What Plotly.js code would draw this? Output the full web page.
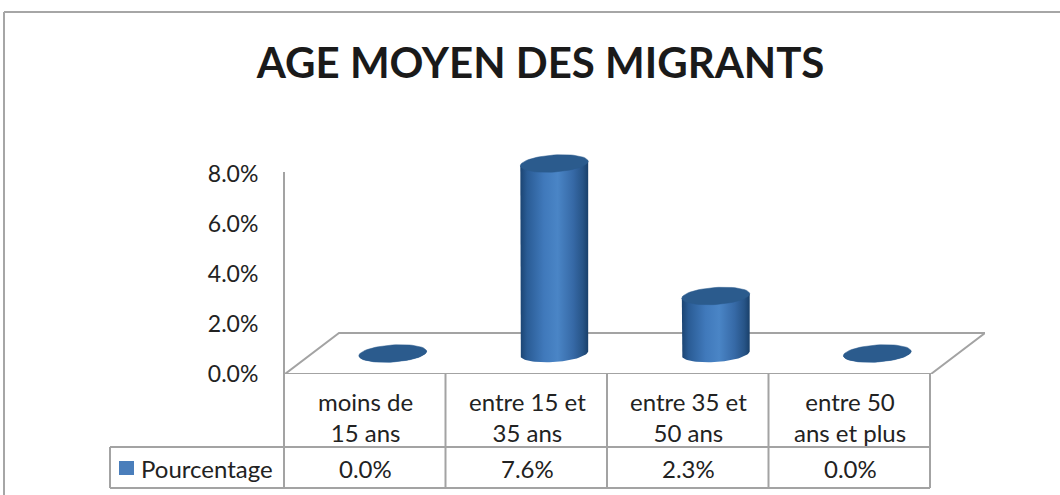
<!DOCTYPE html>
<html>
<head>
<meta charset="utf-8">
<script src="https://cdn.plot.ly/plotly-3.0.1.min.js"></script>
<style>html,body{margin:0;padding:0;background:#fff;}#chart{width:1060px;height:495px;}</style>
</head>
<body>
<div id="chart"></div>
<script>
// ---- data ----
const chartTitle = 'AGE MOYEN DES MIGRANTS';
const categories = ['moins de<br>15 ans', 'entre 15 et<br>35 ans', 'entre 35 et<br>50 ans', 'entre 50<br>ans et plus'];
const seriesName = 'Pourcentage';
const values = [0.0, 7.6, 2.3, 0.0];
const yTickVals = [0, 2, 4, 6, 8];
const yTickText = yTickVals.map(v => v.toFixed(1) + '%');

// ---- layout geometry (pixels) ----
const W = 1060, H = 495;
const PL = 285, PR = 985, PB = 374;
const AXIS_TOP_PX = 172;
const DEPTH_PX_X = 54, DEPTH_PX_Y = 41;
const nCat = categories.length;
const ppx = ((PR - PL) - DEPTH_PX_X) / nCat;       // pixels per category
const dxU = DEPTH_PX_X / ppx;                        // depth offset, x units
const yAxisMax = 8;
const ppy = 25;                                      // pixels per %
const yTop = 8.8;                                    // headroom so cylinder tops are not clipped
const PT = PB - yTop * ppy;
const dyU = DEPTH_PX_Y / ppy;                        // depth offset, y units
const xRange = [-0.5, nCat - 0.5 + dxU];

const px2paperX = p => (p - PL) / (PR - PL);
const py2paperY = p => (PB - p) / (PB - PT);

const LINE = '#a3a3a3';
const TXT = '#222222';
const FONT = 'Lato, "Open Sans", sans-serif';

const traces = [];
// floor
traces.push({
  type: 'scatter', mode: 'lines', hoverinfo: 'skip', showlegend: false, cliponaxis: false,
  x: [-0.5, nCat - 0.5, nCat - 0.5 + dxU, -0.5 + dxU, -0.5],
  y: [0, 0, dyU, dyU, 0],
  line: {color: LINE, width: 2}
});

// cylinders
const RX = 34, RY = 8.5, TILT = -4 * Math.PI / 180;
function ellPt(cx, cy, t) {
  const sx = RX * Math.cos(t), sy = RY * Math.sin(t);
  const X = sx * Math.cos(TILT) - sy * Math.sin(TILT);
  const Y = sx * Math.sin(TILT) + sy * Math.cos(TILT);
  return [cx + X / ppx, cy - Y / ppy];
}
const bodyScale = [[0,'#1b4472'],[0.1,'#2a5c95'],[0.35,'#4079bb'],[0.55,'#4a85c6'],[0.78,'#3669a6'],[0.92,'#275487'],[1,'#19406a']];
values.forEach((v, i) => {
  const cx = i + dxU / 2;
  const base = dyU / 2;
  const top = base + v;
  const bx = [], by = [];
  let p = ellPt(cx, top, Math.PI); bx.push(p[0]); by.push(p[1]);
  for (let k = 0; k <= 40; k++) {
    const t = Math.PI - Math.PI * k / 40;
    p = ellPt(cx, base, t); bx.push(p[0]); by.push(p[1]);
  }
  p = ellPt(cx, top, 0); bx.push(p[0]); by.push(p[1]);
  bx.push(bx[0]); by.push(by[0]);
  traces.push({
    type: 'scatter', mode: 'lines', hoverinfo: 'skip', showlegend: false,
    x: bx, y: by, fill: 'toself', line: {width: 0, color: 'rgba(0,0,0,0)'},
    fillgradient: {type: 'horizontal', colorscale: bodyScale}
  });
  const tx = [], ty = [];
  for (let k = 0; k <= 60; k++) {
    const q = ellPt(cx, top, 2 * Math.PI * k / 60); tx.push(q[0]); ty.push(q[1]);
  }
  traces.push({
    type: 'scatter', mode: 'lines', hoverinfo: 'skip', showlegend: false,
    x: tx, y: ty, fill: 'toself', fillcolor: '#2b5b8d', line: {width: 0.5, color: '#2b5b8d'}
  });
});

// ---- table / frame shapes ----
const shapes = [];
const line = (x0, y0, x1, y1, c, w) => shapes.push({type: 'line', xref: 'paper', yref: 'paper',
  x0: px2paperX(x0), y0: py2paperY(y0), x1: px2paperX(x1), y1: py2paperY(y1), line: {color: c || LINE, width: w || 2}});
// outer frame
line(4, 12, 1062, 12, '#a6a6a6', 2);
line(4, 12, 4, 497, '#a6a6a6', 2);
// value axis line
line(PL - 1, AXIS_TOP_PX, PL - 1, PB);
// table
const ROW1 = 447, ROW2 = 488, LEG_L = 110;
const colEdgesPx = [];
for (let i = 0; i <= nCat; i++) colEdgesPx.push(PL + (i) * ppx - 1);
line(LEG_L, ROW1, colEdgesPx[nCat], ROW1);
line(LEG_L, ROW2, colEdgesPx[nCat], ROW2);
line(LEG_L, ROW1, LEG_L, ROW2);
colEdgesPx.forEach(xp => line(xp, PB, xp, ROW2));
// legend key
shapes.push({type: 'rect', xref: 'paper', yref: 'paper', x0: px2paperX(119), x1: px2paperX(134),
  y0: py2paperY(461), y1: py2paperY(475), fillcolor: '#4a7ebb', line: {width: 0}});

// ---- annotations ----
const annotations = [];
const TFS = 24;
categories.forEach((c, i) => {
  annotations.push({xref: 'x', yref: 'paper', x: i, y: py2paperY(417), text: c, showarrow: false,
    xanchor: 'center', yanchor: 'middle', align: 'center', font: {family: FONT, size: TFS, color: TXT}});
  annotations.push({xref: 'x', yref: 'paper', x: i, y: py2paperY(468), text: values[i].toFixed(1) + '%', showarrow: false,
    xanchor: 'center', yanchor: 'middle', font: {family: FONT, size: TFS, color: TXT}});
});
annotations.push({xref: 'paper', yref: 'paper', x: px2paperX(139), y: py2paperY(468), text: seriesName, showarrow: false,
  xanchor: 'left', yanchor: 'middle', font: {family: FONT, size: TFS, color: TXT}});

const layout = {
  width: W, height: H,
  margin: {l: PL, r: W - PR, t: PT, b: H - PB, pad: 0},
  paper_bgcolor: '#fff', plot_bgcolor: 'rgba(0,0,0,0)',
  showlegend: false,
  title: {text: '<b>' + chartTitle + '</b>', x: 0.51, xanchor: 'center', y: 1 - 63 / H, yref: 'container', yanchor: 'middle',
    font: {family: FONT, size: 42, color: '#1a1a1a'}},
  xaxis: {range: xRange, showgrid: false, zeroline: false, showline: false, showticklabels: false, ticks: '', fixedrange: true},
  yaxis: {range: [0, yTop], tickvals: yTickVals, ticktext: yTickText, showgrid: false, zeroline: false,
    showline: false, ticks: 'outside', ticklen: 21, tickcolor: 'rgba(0,0,0,0)',
    tickfont: {family: FONT, size: 23, color: TXT}, fixedrange: true},
  shapes: shapes,
  annotations: annotations
};

Plotly.newPlot('chart', traces, layout, {displayModeBar: false, staticPlot: true});
</script>
</body>
</html>
